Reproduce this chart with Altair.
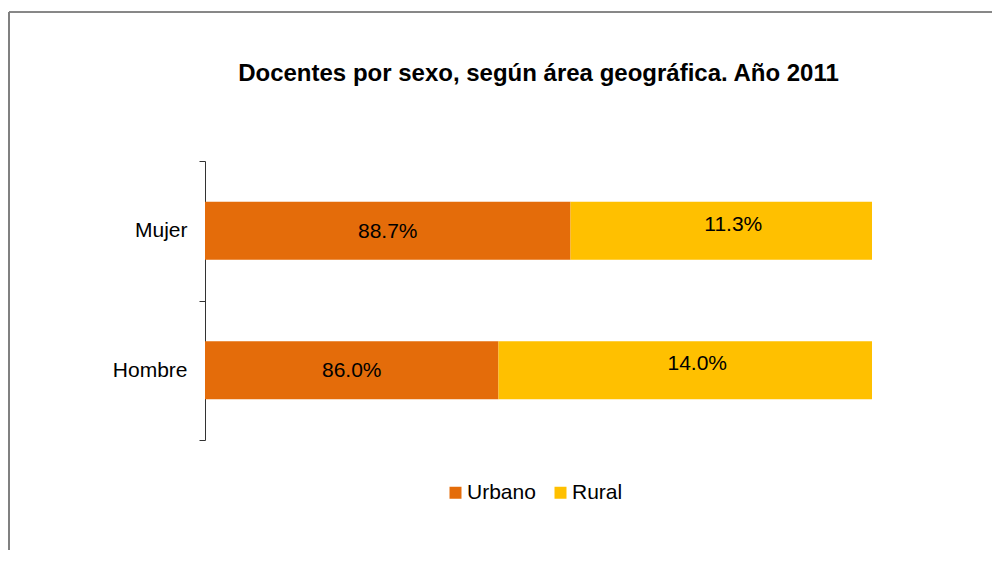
import altair as alt
import pandas as pd

sexo = ["Mujer", "Hombre", "Mujer", "Hombre"]
area = ["Urbano", "Urbano", "Rural", "Rural"]
valor = [88.7, 86.0, 11.3, 14.0]
orden = [0, 0, 1, 1]

categorias = ["Mujer", "Hombre"]
areas = ["Urbano", "Rural"]
colores = ["#E46C0A", "#FFC000"]
x_min, x_max = 75, 100

df = pd.DataFrame({"sexo": sexo, "area": area, "valor": valor, "orden": orden})

FONT = "Liberation Sans"

base = alt.Chart(df).transform_stack(
    stack="valor", groupby=["sexo"], as_=["x0", "x1"], sort=[alt.SortField("orden")]
).transform_calculate(
    xm=f"(max(datum.x0, {x_min}) + datum.x1) / 2",
    etiqueta="format(datum.valor, '.1f') + '%'",
)

yenc = alt.Y(
    "sexo:N",
    sort=categorias,
    title=None,
    scale=alt.Scale(paddingInner=0, paddingOuter=0),
    axis=alt.Axis(
        tickBand="extent",
        labelFontSize=21,
        labelFont=FONT,
        labelColor="#000",
        labelPadding=12,
        tickSize=6,
        tickColor="#333",
        domainColor="#333",
        grid=False,
    ),
)
xscale = alt.Scale(domain=[x_min, x_max], nice=False, zero=False)

bars = base.mark_bar(size=58, clip=True).encode(
    x=alt.X("x0:Q", scale=xscale, axis=None),
    x2="x1:Q",
    y=yenc,
    color=alt.Color(
        "area:N",
        scale=alt.Scale(domain=areas, range=colores),
        sort=areas,
        legend=alt.Legend(
            title=None,
            orient="none",
            legendX=240,
            legendY=321,
            direction="horizontal",
            symbolType="square",
            symbolSize=144,
            symbolStrokeWidth=0,
            labelFontSize=21,
            labelFont=FONT,
            labelColor="#000",
            labelOffset=1,
            columnPadding=14,
        ),
    ),
)

txt_urb = base.transform_filter("datum.area == 'Urbano'").mark_text(
    fontSize=21, font=FONT, color="#000", baseline="middle", dy=1
).encode(x=alt.X("xm:Q", scale=xscale), y=alt.Y("sexo:N", sort=categorias), text="etiqueta:N")

txt_rur = base.transform_filter("datum.area == 'Rural'").mark_text(
    fontSize=21, font=FONT, color="#000", baseline="middle", dx=12, dy=-6
).encode(x=alt.X("xm:Q", scale=xscale), y=alt.Y("sexo:N", sort=categorias), text="etiqueta:N")

marco = alt.Data(values=[{}])
linea_sup = alt.Chart(marco).mark_rule(color="#111111", strokeWidth=1).encode(
    x=alt.value(-196), x2=alt.value(900), y=alt.value(-149)
)
linea_izq = alt.Chart(marco).mark_rule(color="#808080", strokeWidth=2).encode(
    x=alt.value(-196), y=alt.value(-149), y2=alt.value(500)
)

chart = alt.layer(linea_sup, linea_izq, bars, txt_urb, txt_rur).properties(
    width=667,
    height=279,
    title=alt.TitleParams(
        "Docentes por sexo, según área geográfica. Año 2011",
        fontSize=24,
        font=FONT,
        fontWeight="bold",
        color="#000",
        anchor="middle",
        baseline="alphabetic",
        offset=-94,
    ),
    autosize=alt.AutoSizeParams(type="none"),
    padding={"left": 197, "top": 153, "right": 120, "bottom": 110},
).configure_view(stroke=None)

chart.save("out.html", embed_options={"renderer": "svg", "actions": False})
